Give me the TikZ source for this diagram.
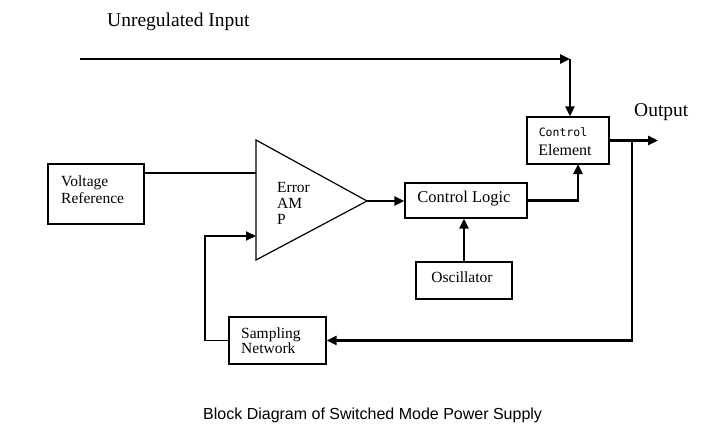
\documentclass[tikz,border=0pt]{standalone}
\usepackage{fontspec}
\setmainfont{Liberation Serif}
\newfontfamily\capfont{Liberation Sans}
\newfontfamily\smallmono{DejaVu Sans Mono}
\usetikzlibrary{arrows.meta}
\begin{document}
\begin{tikzpicture}[x=1pt,y=-1pt,
  box/.style={draw,line width=1.2pt,inner sep=0pt},
  thinline/.style={line width=1.2pt},
  conn/.style={line width=2.8pt,-{Triangle[length=10pt,width=9pt]}},
  fbconn/.style={line width=1.9pt,-{Triangle[length=10pt,width=9pt]}},
  txt/.style={inner sep=0pt,font=\fontsize{15.5}{17}\selectfont,align=left},
  bigtxt/.style={inner sep=0pt,font=\fontsize{19.5}{21}\selectfont}]
\fill[white] (0,0) rectangle (714,441);
\useasboundingbox (0,0) rectangle (714,441);

% boxes
\node[box,minimum width=96pt,minimum height=60pt] (vr) at (96,194) {};
\node[box,minimum width=82pt,minimum height=47pt] (ce) at (568,140.5) {};
\node[box,minimum width=122pt,minimum height=35pt] (cl) at (466,200.5) {};
\node[box,minimum width=96pt,minimum height=37pt] (osc) at (464,280.5) {};
\node[box,minimum width=97pt,minimum height=47pt] (sn) at (277.5,340.5) {};

% amplifier triangle
\coordinate (atop) at (256,140);
\coordinate (abot) at (256,260);
\coordinate (aout) at (367,201);
\coordinate (ain1) at (256,173);
\coordinate (ain2) at (256,236);
\draw[thinline,line join=miter] (atop) -- (aout) -- (abot) -- cycle;

% texts
\node[bigtxt,anchor=west] (lin) at (107,22) {Unregulated Input};
\node[bigtxt,anchor=west] (lout) at (634,112) {Output};
\node[txt,anchor=west] (vrt) at (61,189.5) {Voltage\\Reference};
\node[txt,anchor=west,font=\fontsize{15.5}{16}\selectfont] (ampt) at (277,203) {Error\\AM\\P};
\node[txt,font=\fontsize{16.5}{18}\selectfont] (clt) at (464,199) {Control Logic};
\node[txt] (osct) at (462,277) {Oscillator};
\node[txt,anchor=west,font=\fontsize{15.5}{15.5}\selectfont] (snt) at (241,340.5) {Sampling\\Network};
\node[inner sep=0pt,font=\smallmono\fontsize{11.5}{12}\selectfont] (cet1) at (563,132) {Control};
\node[txt,font=\fontsize{16}{17}\selectfont] (cet2) at (565,150) {Element};
\node[inner sep=0pt,anchor=west,font=\capfont\fontsize{16}{17}\selectfont] (cap) at (203,415) {Block Diagram of Switched Mode Power Supply};

% connectors
\coordinate (in) at (80,59);
\coordinate (corner) at (570,59);
\draw[conn] (in) -- (corner);
\draw[conn] (corner) -- (corner |- ce.north);
\coordinate (out) at (658,140.5);
\draw[conn] (ce.east) -- (out);
\coordinate (tap) at (632,140.5);
\draw[conn] (tap) |- (sn.east);
\draw[thinline] (vr.east |- ain1) -- (ain1);
\draw[conn] (aout) -- (cl.west |- aout);
\coordinate (ceb) at (578,164);
\draw[conn] (cl.east) -| (ceb);
\draw[conn] (osc.north) -- (osc.north |- cl.south);
\draw[fbconn] (sn.west) -- ++(-23,0) |- (ain2);
\end{tikzpicture}
\end{document}
